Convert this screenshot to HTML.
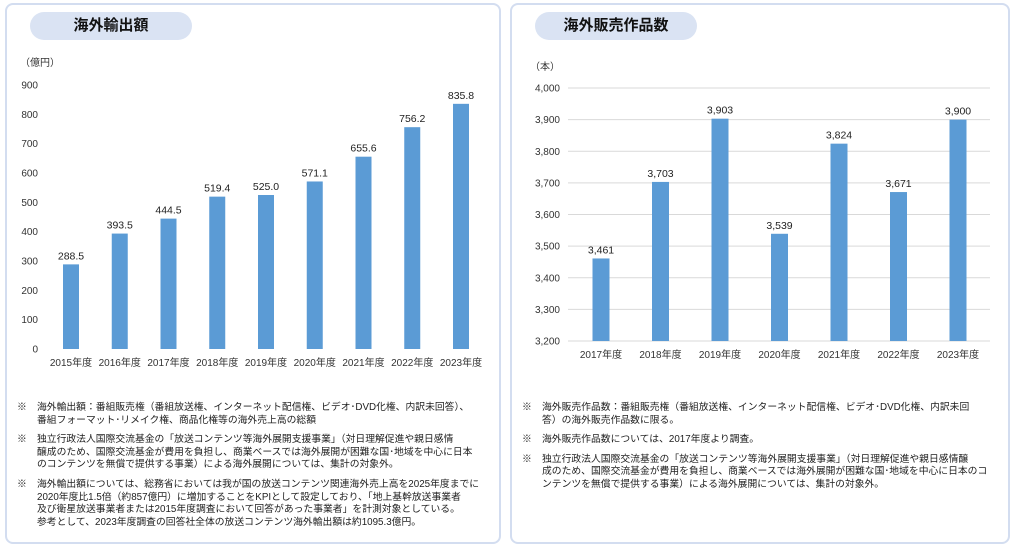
<!DOCTYPE html>
<html><head><meta charset="utf-8">
<style>
body{margin:0;width:1016px;height:550px;background:#fff;font-family:"Liberation Sans","Noto Sans CJK JP",sans-serif;position:relative;overflow:hidden}
.panel{position:absolute;top:3px;height:541px;border:2px solid #d3ddf0;border-radius:8px;box-sizing:border-box}
.pill{position:absolute;top:12px;height:28px;background:#dae3f3;border-radius:14px;font-weight:bold;font-size:15px;line-height:28px;text-align:center;color:#111}
.notes{position:absolute;font-size:9.8px;line-height:12.6px;color:#222;white-space:nowrap}
.note{position:relative;padding-left:20px;margin-bottom:7px}
.note span.m{position:absolute;left:0;top:0}
svg text{font-family:"Liberation Sans","Noto Sans CJK JP",sans-serif}
</style></head><body>
<div class="panel" style="left:5px;width:496px"></div>
<div class="panel" style="left:510px;width:500px"></div>
<div class="pill" style="left:30px;width:162px">海外輸出額</div>
<div class="pill" style="left:535px;width:162px">海外販売作品数</div>
<svg id="c1" width="1016" height="550" style="position:absolute;left:0;top:0"></svg>
<div class="notes" style="left:17px;top:402px">
<div class="note"><span class="m">※</span>海外輸出額：番組販売権（番組放送権、インターネット配信権、ビデオ･DVD化権、内訳未回答）、<br>番組フォーマット･リメイク権、商品化権等の海外売上高の総額</div>
<div class="note"><span class="m">※</span>独立行政法人国際交流基金の「放送コンテンツ等海外展開支援事業」（対日理解促進や親日感情<br>醸成のため、国際交流基金が費用を負担し、商業ベースでは海外展開が困難な国･地域を中心に日本<br>のコンテンツを無償で提供する事業）による海外展開については、集計の対象外。</div>
<div class="note"><span class="m">※</span>海外輸出額については、総務省においては我が国の放送コンテンツ関連海外売上高を2025年度までに<br>2020年度比1.5倍（約857億円）に増加することをKPIとして設定しており、「地上基幹放送事業者<br>及び衛星放送事業者または2015年度調査において回答があった事業者」を計測対象としている。<br>参考として、2023年度調査の回答社全体の放送コンテンツ海外輸出額は約1095.3億円。</div>
</div>
<div class="notes" style="left:522px;top:402px">
<div class="note"><span class="m">※</span>海外販売作品数：番組販売権（番組放送権、インターネット配信権、ビデオ･DVD化権、内訳未回<br>答）の海外販売作品数に限る。</div>
<div class="note"><span class="m">※</span>海外販売作品数については、2017年度より調査。</div>
<div class="note"><span class="m">※</span>独立行政法人国際交流基金の「放送コンテンツ等海外展開支援事業」（対日理解促進や親日感情醸<br>成のため、国際交流基金が費用を負担し、商業ベースでは海外展開が困難な国･地域を中心に日本のコ<br>ンテンツを無償で提供する事業）による海外展開については、集計の対象外。</div>
</div>
<script>
const years1=["2015年度","2016年度","2017年度","2018年度","2019年度","2020年度","2021年度","2022年度","2023年度"];
const values1=[288.5,393.5,444.5,519.4,525.0,571.1,655.6,756.2,835.8];
const ticks1=[0,100,200,300,400,500,600,700,800,900];
const years2=["2017年度","2018年度","2019年度","2020年度","2021年度","2022年度","2023年度"];
const values2=[3461,3703,3903,3539,3824,3671,3900];
const ticks2=[3200,3300,3400,3500,3600,3700,3800,3900,4000];
const NS="http://www.w3.org/2000/svg";
const svg=document.getElementById('c1');
function mk(tag,attrs,txt){const e=document.createElementNS(NS,tag);for(const k in attrs)e.setAttribute(k,attrs[k]);if(txt!==undefined)e.textContent=txt;svg.appendChild(e);return e;}
function chart(o){
  const y=v=>o.y0-(v-o.min)/(o.max-o.min)*(o.y0-o.y1);
  const x=i=>o.x0+i*o.step;
  o.ticks.forEach(t=>{
    if(o.grid){const g=mk('line',{x1:o.gl,x2:o.gr,y1:y(t),y2:y(t),stroke:'#d9d9d9','stroke-width':1});
    
    }
    const l=mk('text',{x:o.tx,y:y(t)+3.5,'text-anchor':'end','font-size':10,fill:'#333'},o.fmt(t));
    
    
  });
  o.vals.forEach((v,i)=>{
    const b=mk('rect',{x:x(i)-o.bw/2,y:y(v),width:o.bw,height:o.y0-y(v),fill:'#5b9bd5'});
    
    
    const t=mk('text',{x:x(i),y:y(v)-5,'text-anchor':'middle','font-size':10.5,fill:'#222'},o.lab(v));
    
    
    const c=mk('text',{x:x(i),y:o.y0+17,'text-anchor':'middle','font-size':10,fill:'#333'},o.cats[i]);
    
    
  });
  const u=mk('text',{x:o.ux,y:o.uy,'font-size':10,fill:'#333'},o.unit);
  
  
}
chart({cats:years1,vals:values1,ticks:ticks1,min:0,max:900,y0:349,y1:85,x0:71,step:48.75,bw:16,tx:38,grid:false,fmt:t=>String(t),lab:v=>v.toFixed(1),unit:'（億円）',ux:20,uy:66});
chart({cats:years2,vals:values2,ticks:ticks2,min:3200,max:4000,y0:341,y1:88,x0:601,step:59.5,bw:17,tx:560,grid:true,gl:568,gr:990,fmt:t=>t.toLocaleString('en-US'),lab:v=>v.toLocaleString('en-US'),unit:'（本）',ux:530,uy:70});
</script>
</body></html>
